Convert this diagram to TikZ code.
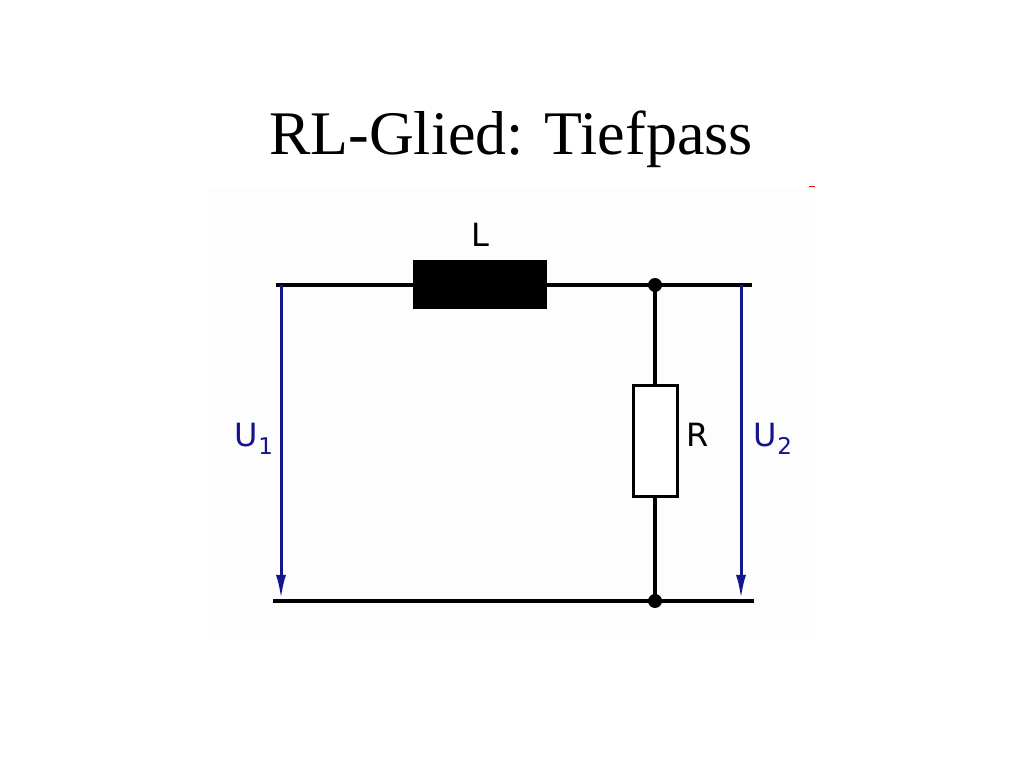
\documentclass[tikz,border=0pt]{standalone}
\usepackage{fontspec}
\setmainfont{Liberation Serif}
\newfontfamily\labelfont{DejaVu Sans}
\usetikzlibrary{arrows.meta}

\definecolor{ublue}{RGB}{20,20,140}
\definecolor{panel}{RGB}{253,253,253}

\newcommand{\volsub}[1]{\raisebox{-0.22em}{\fontsize{23}{26}\selectfont#1}}

\begin{document}
\begin{tikzpicture}[x=1pt,y=1pt,
  wire/.style={line width=4pt},
  coil/.style={fill=black,minimum width=134pt,minimum height=49pt,inner sep=0pt},
  resbox/.style={draw,fill=white,line width=3pt,minimum width=44pt,minimum height=111pt,inner sep=0pt},
  volt/.style={ublue,line width=3pt,-{Latex[length=24pt,width=10pt]}},
  lbl/.style={anchor=base,font=\labelfont\fontsize{32}{36}\selectfont}]
  \useasboundingbox (0,0) rectangle (1024,768);
  \fill[panel] (207,128) rectangle (815,581);
  \draw[red,line width=1pt] (809,581) -- (815,581);

  \node[anchor=base,font=\fontsize{62}{68}\selectfont] (title) at (511,613) {RL-Glied: Tiefpass};

  % wires
  \coordinate (tl) at (276,483);
  \coordinate (tr) at (752,483);
  \coordinate (bl) at (273,167);
  \coordinate (br) at (754,167);
  \coordinate (jt) at (655,483);
  \coordinate (jb) at (655,167);

  \node[coil] (ind) at (480,483) {};
  \node[resbox] (res) at (655,327) {};

  \draw[wire] (tl) -- (ind.west) (ind.east) -- (tr);
  \draw[wire] (bl) -- (br);
  \draw[wire] (jt) -- (res.north) (res.south) -- (jb);
  \fill (jt) circle (7);
  \fill (jb) circle (7);

  \node[lbl] (lL) at (480,521) {L};
  \node[lbl] (lR) at (698,321) {R};

  % voltages
  \foreach \n/\x/\lx in {1/281/254,2/741/773} {
    \coordinate (u\n a) at (\x,483);
    \coordinate (u\n b) at (\x,169);
    \draw[volt] (u\n a) -- (u\n b);
    \node[lbl,ublue] (u\n) at (\lx,321) {U\volsub{\n}};
  }
\end{tikzpicture}
\end{document}
